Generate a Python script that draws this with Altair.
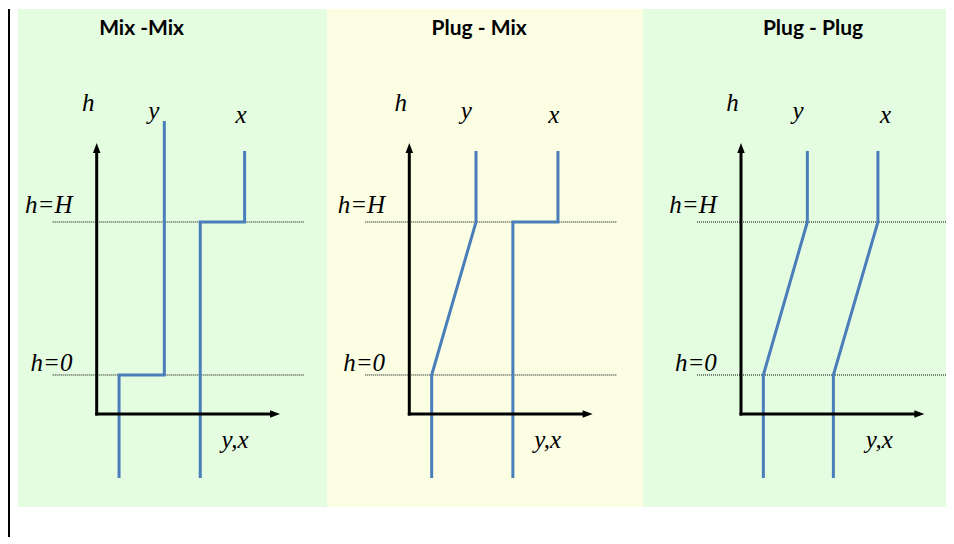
import altair as alt
import pandas as pd

# ---------------- data ----------------
# concentration units: arrow of the y,x axis = 100 ; height units: h=0 -> 0, h=H -> 1
panel_titles = ["Mix -Mix", "Plug - Mix", "Plug - Plug"]
panel_fills = ["#e4fce0", "#fbfee2", "#e4fce0"]

# y-phase profiles (concentration, height), one list per panel
y_conc = [[36.9, 36.9, 12.2, 12.2], [36.4, 36.4, 12.2, 12.2], [36.2, 36.2, 12.2, 12.2]]
y_height = [[1.66, 0.0, 0.0, -0.673], [1.464, 1.0, 0.0, -0.673], [1.464, 1.0, 0.0, -0.673]]
# x-phase profiles
x_conc = [[80.7, 80.7, 56.5, 56.5], [81.1, 81.1, 56.5, 56.5], [74.7, 74.7, 50.4, 50.4]]
x_height = [[1.464, 1.0, 1.0, -0.673], [1.464, 1.0, 1.0, -0.673], [1.464, 1.0, 0.0, -0.673]]

level_values = [0.0, 1.0]          # h=0 and h=H
level_labels = ["h=0", "h=H"]

# ---------------- layout helpers ----------------
panel_widths = [309, 316, 303]
panel_domains = [[-42.93, 125.65], [-44.9, 127.5], [-53.46, 111.84]]
title_pos = [24.5, 38.1, 39.3]
h_domain = [-0.8627, 2.392]
panel_height = 498

AX0 = -0.255          # height of the horizontal axis
ARROW_TOP = 1.484
ARROW_RIGHT = 97.3
BLUE = "#4a7ebb"
SERIF = "Liberation Serif"


def build_panel(i):
    xs = alt.X("c:Q", scale=alt.Scale(domain=panel_domains[i], nice=False, zero=False), axis=None)
    ys = alt.Y("h:Q", scale=alt.Scale(domain=h_domain, nice=False, zero=False), axis=None)

    prof_rows = []
    for name, cs, hs in (("y", y_conc[i], y_height[i]), ("x", x_conc[i], x_height[i])):
        for k, (c, h) in enumerate(zip(cs, hs)):
            prof_rows.append({"prof": name, "k": k, "c": c, "h": h})
    prof = pd.DataFrame(prof_rows)

    levels = pd.DataFrame({"h": level_values, "c": [-24.0] * 2, "c2": [113.0] * 2,
                           "lab": level_labels})

    dotted = alt.Chart(levels).mark_rule(color="#000000", strokeWidth=1,
                                         strokeDash=[1, 1], clip=True).encode(
        x=xs, x2="c2:Q", y=ys)

    vaxis = alt.Chart(pd.DataFrame({"c": [0.0], "h": [AX0 - 0.01], "h2": [ARROW_TOP - 0.01]})).mark_rule(
        color="black", strokeWidth=3).encode(x=xs, y=ys, y2="h2:Q")
    haxis = alt.Chart(pd.DataFrame({"c": [-0.8], "c2": [ARROW_RIGHT], "h": [AX0]})).mark_rule(
        color="black", strokeWidth=3).encode(x=xs, x2="c2:Q", y=ys)
    up = alt.Chart(pd.DataFrame({"c": [0.0], "h": [ARROW_TOP]})).mark_point(
        shape="M0,-1L-0.75,1L0.75,1Z", size=100, filled=True, color="black", opacity=1).encode(x=xs, y=ys)
    right = alt.Chart(pd.DataFrame({"c": [ARROW_RIGHT], "h": [AX0]})).mark_point(
        shape="M1,0L-1,-0.75L-1,0.75Z", size=100, filled=True, color="black", opacity=1).encode(x=xs, y=ys)

    lines = alt.Chart(prof).mark_line(color=BLUE, strokeWidth=3, strokeJoin="miter").encode(
        x=xs, y=ys, detail="prof:N", order="k:Q")

    lvl_text = alt.Chart(levels).mark_text(
        font=SERIF, fontStyle="italic", fontSize=25, align="right", baseline="alphabetic",
        color="black").encode(
        x=alt.X("cx:Q", scale=alt.Scale(domain=panel_domains[i], nice=False, zero=False), axis=None),
        y=alt.Y("hy:Q", scale=alt.Scale(domain=h_domain, nice=False, zero=False), axis=None),
        text="lab:N").transform_calculate(cx="-13.2", hy="datum.h == 0 ? 0.026 : 1.06")

    labels = pd.DataFrame({
        "lab": ["h", "y", "x", "y,x"],
        "c": [-4.6, 31.1, 78.8, 75.5],
        "h": [1.723, 1.673, 1.65, -0.477],
    })
    lab_text = alt.Chart(labels).mark_text(
        font=SERIF, fontStyle="italic", fontSize=25, align="center", baseline="alphabetic",
        color="black").encode(x=xs, y=ys, text="lab:N")

    title = alt.Chart(pd.DataFrame({"c": [title_pos[i]], "h": [2.222], "t": [panel_titles[i]]})).mark_text(
        font="Lato", fontWeight="bold", fontSize=21, align="center", baseline="alphabetic",
        color="black").encode(x=xs, y=ys, text="t:N")

    return alt.layer(dotted, lines, vaxis, haxis, up, right, lvl_text, lab_text, title).properties(
        width=panel_widths[i], height=panel_height,
        view=alt.ViewBackground(fill=panel_fills[i], stroke=None))


border = alt.Chart(pd.DataFrame({"a": [0]})).mark_rule(color="black", strokeWidth=2).encode(
    x=alt.value(1), y=alt.value(0), y2=alt.value(528)).properties(width=10, height=528)

chart = alt.hconcat(border, build_panel(0), build_panel(1), build_panel(2),
                    spacing=0, bounds="flush").properties(padding=0).configure_view(stroke=None)

chart.save("out.html", embed_options={"renderer": "svg", "actions": False})
